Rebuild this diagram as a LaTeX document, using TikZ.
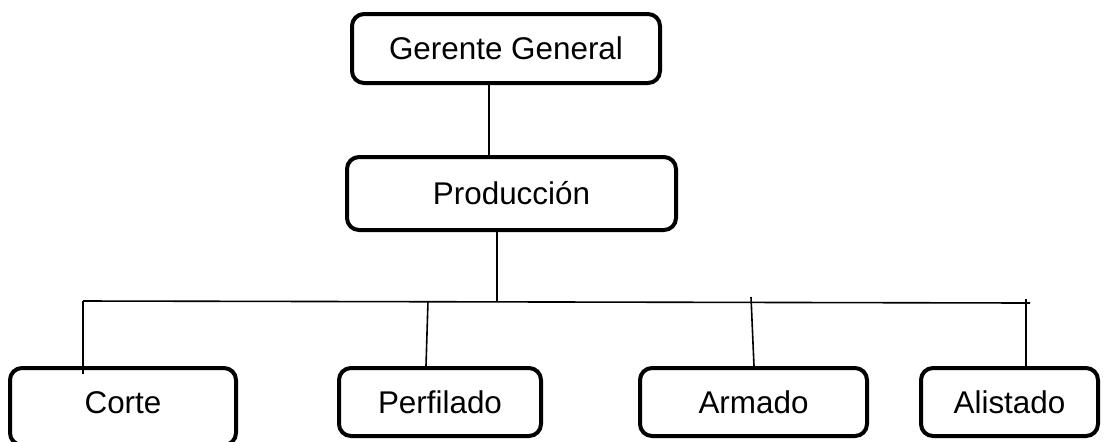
\documentclass[tikz,border=0pt]{standalone}
\usepackage{fontspec}
\setmainfont{Liberation Sans}
\usetikzlibrary{calc}
\tikzstyle{box}=[draw, line width=2pt, rounded corners=6pt, inner sep=0pt,
  font=\fontsize{15.7}{18}\selectfont]
\tikzstyle{line}=[line width=0.8pt]

\begin{document}
\begin{tikzpicture}[x=0.5pt,y=-0.5pt]
  \useasboundingbox (0,0) rectangle (1104,441);
  \node[box, minimum width=154pt, minimum height=34.5pt] (g) at (506,48.5) {Gerente General};
  \node[box, minimum width=164.5pt, minimum height=36.5pt] (p) at (511.5,193.5) {Producción};
  \node[box, minimum width=113pt, minimum height=38.5pt, text height=11.3pt, text depth=4pt] (c1) at (123,406.5) {Corte};
  \node[box, minimum width=101pt, minimum height=34pt] (c2) at (440,402) {Perfilado};
  \node[box, minimum width=113.5pt, minimum height=34pt] (c3) at (753.5,402) {Armado};
  \node[box, minimum width=88.5pt, minimum height=34pt] (c4) at (1009.5,402) {Alistado};
  % bus
  \coordinate (b0) at (83,301);
  \coordinate (b5) at (1030,303);
  \path (g.south) ++(-17,0) coordinate (g1);
  \path (p.south) ++(-14.5,0) coordinate (p1);
  \draw[line] (g1) -- (g1 |- p.north);
  \draw[line] (p1) -- (p1 |- b0);
  \draw[line] (b0) -- (b5);
  \draw[line] (b0) -- ($(b0 |- c1.north)+(0,8)$);
  \draw[line] (428,301) coordinate (b2) -- ($(c2.north)+(-14,0)$);
  \draw[line] (751,297) coordinate (b3) -- ($(c3.north)+(0.5,0)$);
  \draw[line] (1026,299) coordinate (b4) -- ($(c4.north)+(16.5,0)$);
\end{tikzpicture}
\end{document}
